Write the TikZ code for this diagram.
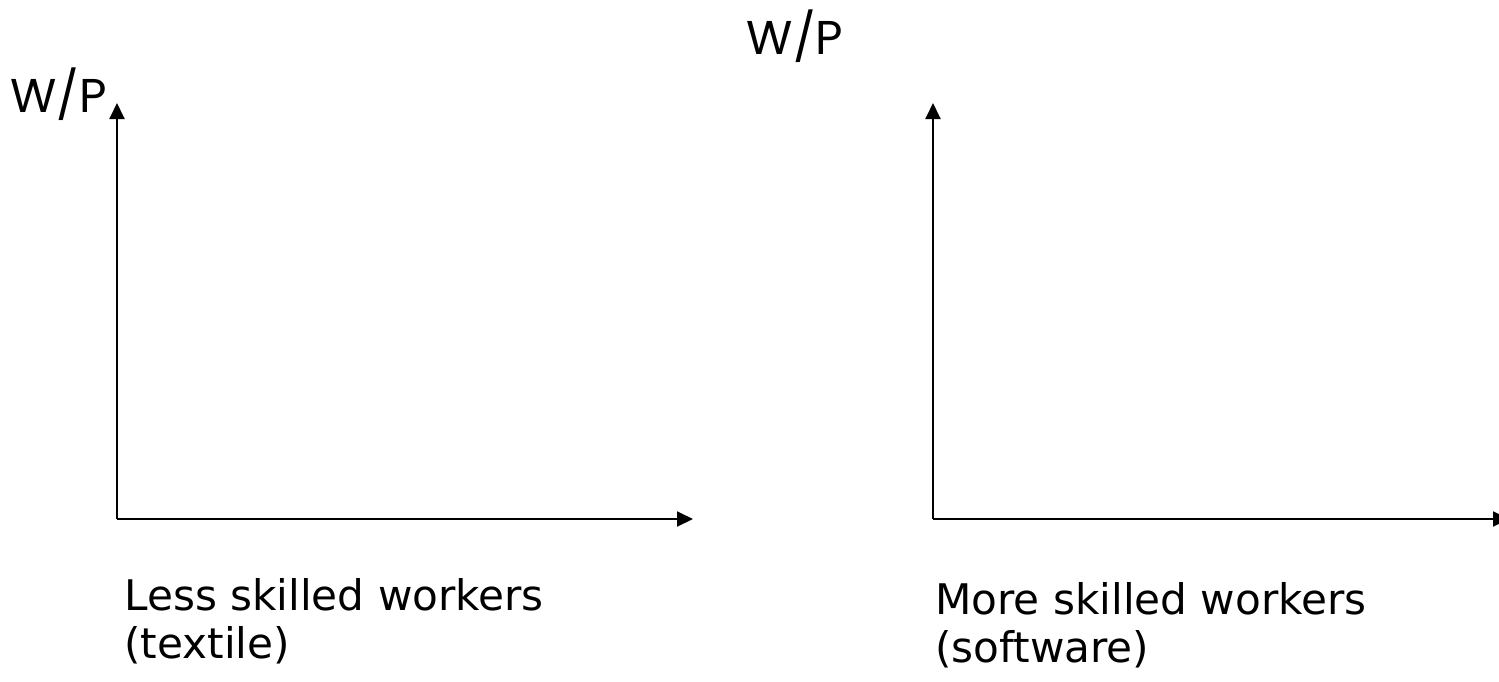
\documentclass[tikz,border=0pt]{standalone}
\usepackage{fontspec}
\setmainfont{DejaVu Sans}
\newfontfamily\axisfont{Poppins}
\usetikzlibrary{arrows.meta,positioning}

\tikzset{
    axis/.style={line width=1.1pt, -{Triangle[length=0.32cm,width=0.3cm]}},
    axislabel/.style={inner sep=0pt, font=\axisfont\fontsize{27}{30}\selectfont},
    marketlabel/.style={inner sep=0pt, align=left, anchor=base west,
        font=\fontsize{24}{27}\selectfont}
}

\begin{document}
\begin{tikzpicture}[x=0.02cm, y=-0.02cm]
    \useasboundingbox (0,0) rectangle (1499,681);

    % left market
    \coordinate (oL) at (117,519);
    \coordinate (yL) at (117,103);
    \coordinate (xL) at (693,519);
    \draw[axis] (oL) -- (yL);
    \draw[axis] (oL) -- (xL);
    \node[axislabel, anchor=base west] (wpL) at (10,112) {W/P};
    \node[marketlabel] (less) at (124,658) {Less skilled workers\\(textile)};

    % right market
    \coordinate (oR) at (933,519);
    \coordinate (yR) at (933,103);
    \coordinate (xR) at (1509,519);
    \draw[axis] (oR) -- (yR);
    \draw[axis] (oR) -- (xR);
    \node[axislabel, anchor=base] (wpR) at (795,54) {W/P};
    \node[marketlabel] (more) at (935,662) {More skilled workers\\(software)};
\end{tikzpicture}
\end{document}
